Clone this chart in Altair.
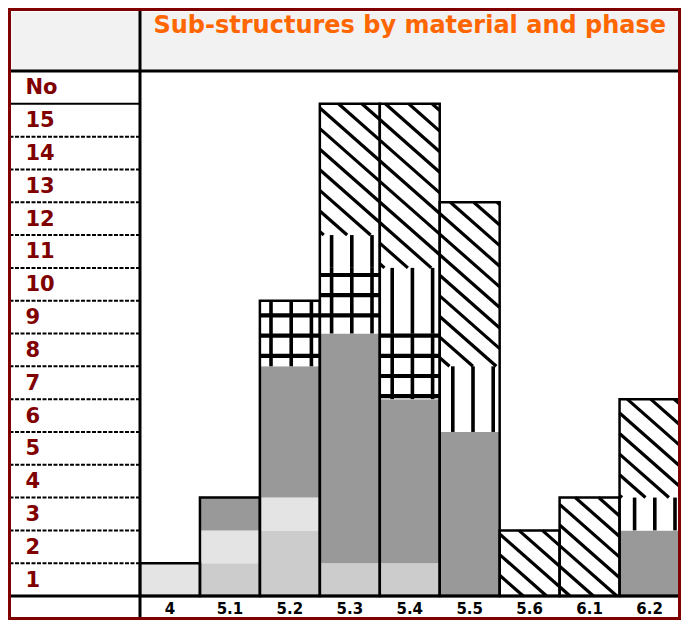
import math
import altair as alt
import pandas as pd

# ---------------- data ----------------
categories = ["4", "5.1", "5.2", "5.3", "5.4", "5.5", "5.6", "6.1", "6.2"]
series = ["Type 1", "Type 2", "Type 3", "Type 4", "Type 5", "Type 6"]
type1 = [0, 1, 2, 1, 1, 0, 0, 0, 0]
type2 = [1, 1, 1, 0, 0, 0, 0, 0, 0]
type3 = [0, 1, 4, 7, 5, 5, 0, 0, 2]
type4 = [0, 0, 2, 2, 2, 0, 0, 0, 0]
type5 = [0, 0, 0, 1, 2, 2, 0, 0, 1]
type6 = [0, 0, 0, 4, 5, 5, 2, 3, 3]
series_values = [type1, type2, type3, type4, type5, type6]
row_labels = [str(k) for k in range(1, 16)] + ["No"]
title_text = "Sub-structures by material and phase"

# ---------------- style ----------------
fill_colors = ["#cccccc", "#e4e4e4", "#999999", "#ffffff", "#ffffff", "#ffffff"]
PATTERN = {"Type 4": "cross", "Type 5": "vertical", "Type 6": "diagonal"}
FONT = "DejaVu Sans"
DARK_RED = "#800000"
ORANGE = "#ff6600"

# ---------------- layout (page pixels) ----------------
VIEW_LEFT, VIEW_TOP, VIEW_RIGHT, VIEW_BOTTOM = 9.5, 9.5, 679.5, 618.5
X0_PAGE, Y0_PAGE, TOPLINE_PAGE = 140.0, 596.0, 71.0
W = VIEW_RIGHT - VIEW_LEFT
H = VIEW_BOTTOM - VIEW_TOP
NCAT = len(categories)
NROW = len(row_labels)
BAND = (VIEW_RIGHT - X0_PAGE) / NCAT
ROW = (Y0_PAGE - TOPLINE_PAGE) / NROW
XMIN = -(X0_PAGE - VIEW_LEFT) / BAND
XMAX = float(NCAT)
YMAX = (Y0_PAGE - VIEW_TOP) / ROW
YMIN = -(VIEW_BOTTOM - Y0_PAGE) / ROW

# hatch pattern tiling (page pixels)
V0, VS = 271.0, 20.2          # vertical stripes
H0, HS = 275.0, 20.2          # horizontal stripes
M = 0.88                      # diagonal slope (down-right)
DS = 20.6
C0 = 566.2 - M * 559.6


def px(X):
    return X0_PAGE + X * BAND


def py(Y):
    return Y0_PAGE - Y * ROW


def to_x(p):
    return (p - X0_PAGE) / BAND


def to_y(p):
    return (Y0_PAGE - p) / ROW


# long table for stacked bars
rows = []
for i, cat in enumerate(categories):
    for order, (s, vals) in enumerate(zip(series, series_values)):
        if vals[i] > 0:
            rows.append({"cat": cat, "i": i, "series": s, "order": order, "value": vals[i]})
long_df = pd.DataFrame(rows)

totals_df = pd.DataFrame({
    "cat": categories,
    "i": list(range(NCAT)),
    "total": [sum(v[i] for v in series_values) for i in range(NCAT)],
})

# segments for hatching
segments = []
for i in range(NCAT):
    base = 0
    for s, vals in zip(series, series_values):
        v = vals[i]
        if v > 0:
            segments.append((i, base, base + v, s))
            base += v

vert, horiz, diag = [], [], []
for i, b0, b1, s in segments:
    kind = PATTERN.get(s)
    if kind is None:
        continue
    xa, xb = px(i), px(i + 1)
    ya, yb = py(b1), py(b0)
    if kind in ("vertical", "cross"):
        k = math.ceil((xa - V0) / VS)
        while V0 + k * VS < xb:
            p = V0 + k * VS
            if p - xa > 2.5 and xb - p > 2.5:
                vert.append({"x": to_x(p), "y": b0, "y2": b1})
            k += 1
    if kind == "cross":
        k = math.ceil((ya - H0) / HS)
        while H0 + k * HS < yb:
            p = H0 + k * HS
            if p - ya > 2 and yb - p > 2:
                horiz.append({"x": i, "x2": i + 1, "y": to_y(p)})
            k += 1
    if kind == "diagonal":
        cmin, cmax = ya - M * xb, yb - M * xa
        k = math.ceil((cmin - C0) / DS)
        while C0 + k * DS <= cmax:
            c = C0 + k * DS
            lo = max(xa, (ya - c) / M)
            hi = min(xb, (yb - c) / M)
            if hi - lo > 0.8:
                diag.append({"x": to_x(lo), "y": to_y(M * lo + c),
                             "x2": to_x(hi), "y2": to_y(M * hi + c)})
            k += 1

vert_df = pd.DataFrame(vert)
horiz_df = pd.DataFrame(horiz)
diag_df = pd.DataFrame(diag)

xs = alt.Scale(domain=[XMIN, XMAX], nice=False, zero=False)
ys = alt.Scale(domain=[YMIN, YMAX], nice=False, zero=False)

header = alt.Chart(pd.DataFrame({"a": [0]})).mark_rect(color="#f2f2f2").encode(
    x=alt.value(2), x2=alt.value(W - 1),
    y=alt.YDatum(NROW, scale=ys, axis=None), y2=alt.value(2.5),
)

bars = alt.Chart(long_df).transform_stack(
    stack="value", groupby=["cat"], sort=[alt.SortField("order", order="ascending")],
    as_=["y0", "y1"],
).transform_calculate(i2="datum.i + 1").mark_rect().encode(
    x=alt.X("i:Q", scale=xs, axis=None),
    x2="i2:Q",
    y=alt.Y("y0:Q", scale=ys, axis=None),
    y2="y1:Q",
    fill=alt.Fill("series:N", scale=alt.Scale(domain=series, range=fill_colors), legend=None),
)

vert_layer = alt.Chart(vert_df).mark_rule(color="black", strokeWidth=3.6).encode(
    x=alt.X("x:Q", scale=xs, axis=None),
    y=alt.Y("y:Q", scale=ys, axis=None), y2="y2:Q",
)
horiz_layer = alt.Chart(horiz_df).mark_rule(color="black", strokeWidth=4.2).encode(
    x=alt.X("x:Q", scale=xs, axis=None), x2="x2:Q",
    y=alt.Y("y:Q", scale=ys, axis=None),
)
diag_layer = alt.Chart(diag_df).mark_rule(color="black", strokeWidth=3.2).encode(
    x=alt.X("x:Q", scale=xs, axis=None), x2="x2:Q",
    y=alt.Y("y:Q", scale=ys, axis=None), y2="y2:Q",
)

outline = alt.Chart(totals_df).transform_calculate(i2="datum.i + 1").mark_rect(
    fill="transparent", stroke="black", strokeWidth=2.5
).encode(
    x=alt.X("i:Q", scale=xs, axis=None), x2="i2:Q",
    y=alt.Y("total:Q", scale=ys, axis=None), y2=alt.datum(0),
)

# table lines
vline = alt.Chart(pd.DataFrame({"a": [0]})).mark_rule(color="black", strokeWidth=3).encode(
    x=alt.XDatum(0, scale=xs, axis=None), y=alt.value(0), y2=alt.value(H),
)
hlines = alt.Chart(pd.DataFrame({"y": [0, NROW]})).mark_rule(color="black", strokeWidth=3).encode(
    x=alt.value(0), x2=alt.value(W),
    y=alt.Y("y:Q", scale=ys, axis=None),
)
solid_row = alt.Chart(pd.DataFrame({"y": [NROW - 1]})).mark_rule(color="black", strokeWidth=2).encode(
    x=alt.XDatum(XMIN, scale=xs, axis=None), x2=alt.datum(0),
    y=alt.Y("y:Q", scale=ys, axis=None),
)
dashed_rows = alt.Chart(pd.DataFrame({"y": list(range(1, NROW - 1))})).mark_rule(
    color="black", strokeWidth=2, strokeDash=[4, 1.5]
).encode(
    x=alt.XDatum(XMIN, scale=xs, axis=None), x2=alt.datum(0),
    y=alt.Y("y:Q", scale=ys, axis=None),
)

# row labels (left column) and category labels (bottom row)
row_df = pd.DataFrame({"label": row_labels, "row": list(range(1, NROW + 1))})
row_text = alt.Chart(row_df).transform_calculate(yc="datum.row - 0.5").mark_text(
    font=FONT, fontSize=21, fontWeight="bold", color=DARK_RED,
    align="left", baseline="middle", dy=1,
).encode(
    x=alt.value(16),
    y=alt.Y("yc:Q", scale=ys, axis=None),
    text="label:N",
)

cat_df = pd.DataFrame({"cat": categories, "i": list(range(NCAT))})
cat_text = alt.Chart(cat_df).transform_calculate(xc="datum.i + 0.5").mark_text(
    font=FONT, fontSize=15, fontWeight="bold", color="black",
    align="center", baseline="alphabetic",
).encode(
    x=alt.X("xc:Q", scale=xs, axis=None),
    y=alt.value(H - 4.5),
    text="cat:N",
)

title = alt.Chart(pd.DataFrame({"t": [title_text]})).mark_text(
    font=FONT, fontSize=24, fontWeight="bold", color=ORANGE,
    align="center", baseline="alphabetic",
).encode(
    x=alt.XDatum(NCAT / 2, scale=xs, axis=None), y=alt.value(23.8), text="t:N",
)

border = alt.Chart(pd.DataFrame({"a": [0]})).mark_rect(
    fill="transparent", stroke=DARK_RED, strokeWidth=3
).encode(
    x=alt.value(0), x2=alt.value(W), y=alt.value(0), y2=alt.value(H),
)

chart = alt.layer(
    header, bars, vert_layer, horiz_layer, diag_layer, outline,
    vline, hlines, solid_row, dashed_rows, row_text, cat_text, title, border,
).properties(
    width=W, height=H,
    padding={"left": 1.5, "top": 1.5, "right": 1.5, "bottom": 1.5},
    autosize=alt.AutoSizeParams(type="none"),
    background="white",
).configure_view(strokeWidth=0)

chart.save("out.html", embed_options={"renderer": "svg", "actions": False})
